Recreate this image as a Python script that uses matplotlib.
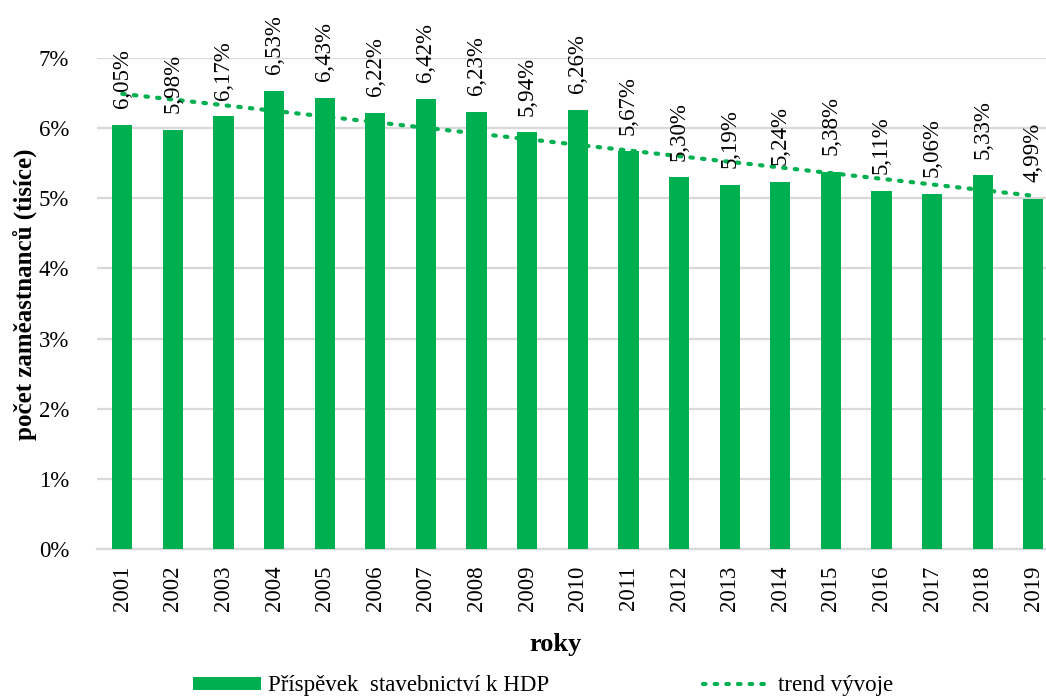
import numpy as np
import matplotlib
matplotlib.use("Agg")
import matplotlib.pyplot as plt
from matplotlib.lines import Line2D
from matplotlib.patches import Patch

years = ["2001", "2002", "2003", "2004", "2005", "2006", "2007", "2008", "2009", "2010",
         "2011", "2012", "2013", "2014", "2015", "2016", "2017", "2018", "2019"]
share = [6.05, 5.98, 6.17, 6.53, 6.43, 6.22, 6.42, 6.23, 5.94, 6.26,
         5.67, 5.30, 5.19, 5.24, 5.38, 5.11, 5.06, 5.33, 4.99]
y_ticks = [0, 1, 2, 3, 4, 5, 6, 7]

GREEN = "#00B050"
GRID = "#d9d9d9"
DOTS = (0, (0.6, 2.2))

plt.rcParams["font.family"] = ["Liberation Serif", "DejaVu Serif"]

fig = plt.figure(figsize=(10.46, 6.97), dpi=100)
ax = fig.add_axes([0.0927, 0.2123, 0.9073, 0.7044])

x = np.arange(len(years))
ax.bar(x, share, width=0.4, color=GREEN, zorder=3)

# linear trend over the series
coef = np.polyfit(x, share, 1)
ax.plot(x, np.polyval(coef, x), color=GREEN, linestyle=DOTS,
        linewidth=3, dash_capstyle="round", zorder=4)

for xi, v in zip(x, share):
    ax.annotate(f"{v:.2f}%".replace(".", ","), (xi, v), xytext=(0, 12),
                textcoords="offset points", rotation=90, ha="center", va="bottom",
                fontsize=16.5, zorder=5)

ax.set_xlim(-0.5, 18.25)
ax.set_ylim(0, 7)
ax.set_yticks(y_ticks)
ax.set_yticklabels([f"{t}%" for t in y_ticks], fontsize=16.5)
ax.set_xticks(x)
ax.set_xticklabels(years, rotation=90, fontsize=16.5)
ax.tick_params(axis="both", length=0)
ax.tick_params(axis="x", pad=12)
ax.tick_params(axis="y", pad=20)
ax.yaxis.grid(True, color=GRID, linewidth=1.6, zorder=0)
ax.set_axisbelow(True)
for side in ["top", "right", "left"]:
    ax.spines[side].set_visible(False)
ax.spines["bottom"].set_color(GRID)
ax.spines["bottom"].set_linewidth(1.6)

fig.text(0.024, 1 - 294 / 697, "počet zaměastnanců (tisíce)", rotation=90,
         ha="center", va="center", fontsize=18, fontweight="bold")
fig.text(556 / 1046, 1 - 644 / 697, "roky", ha="center", va="center",
         fontsize=19, fontweight="bold")

handles = [Patch(facecolor=GREEN, edgecolor="none"),
           Line2D([0], [0], color=GREEN, linestyle=DOTS, linewidth=3,
                  dash_capstyle="round")]
fig.legend(handles, ["Příspěvek  stavebnictví k HDP", "trend vývoje"],
           loc="center left", bbox_to_anchor=(193 / 1046, 1 - 686 / 697), ncol=2,
           frameon=False, fontsize=16.5, handlelength=2.97, handleheight=0.52,
           columnspacing=6.7, handletextpad=0.3, borderpad=0, borderaxespad=0)

fig.savefig("out.png", dpi=100)
